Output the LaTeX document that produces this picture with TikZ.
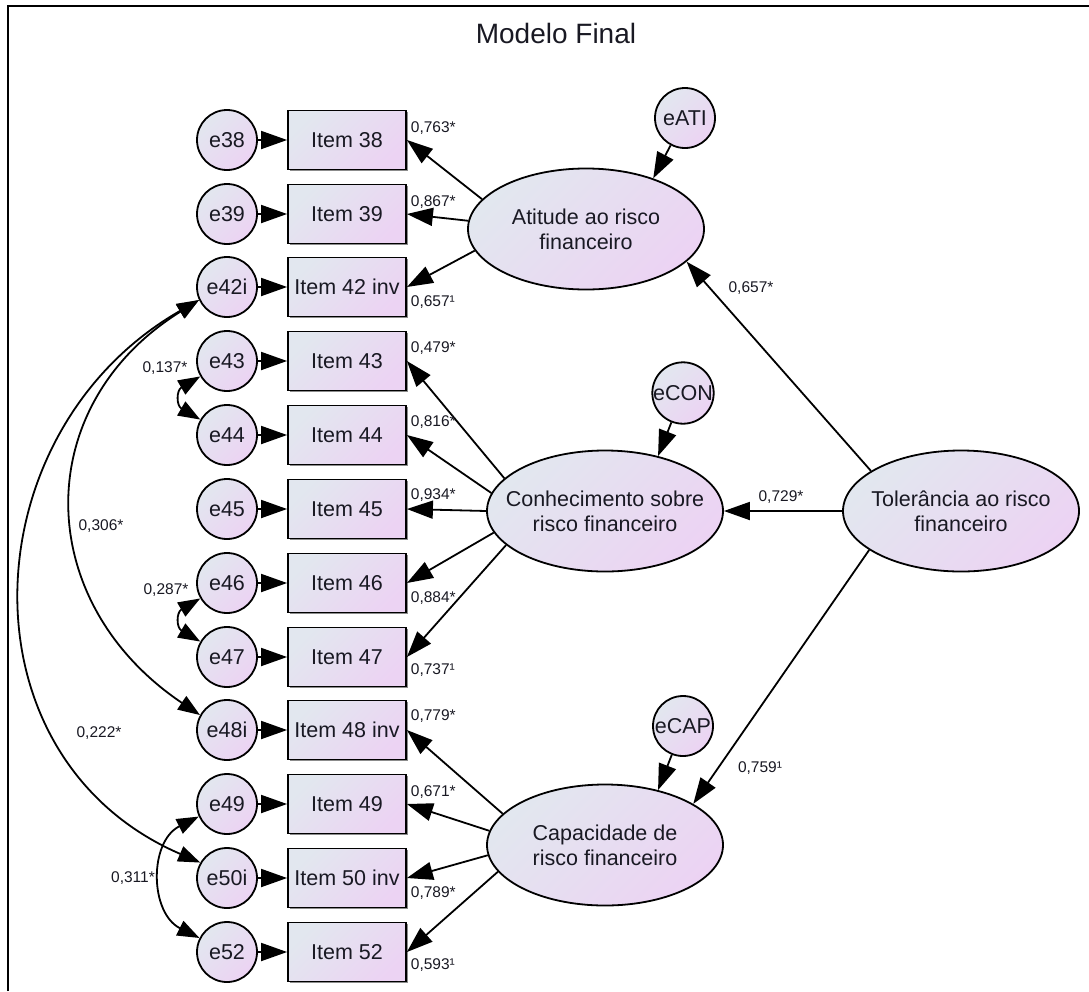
\documentclass[tikz,border=0pt]{standalone}
\usepackage{fontspec}
\setmainfont{Liberation Sans}
\usetikzlibrary{arrows.meta,shapes.geometric,shadows}
\definecolor{fillA}{RGB}{226,231,239}
\definecolor{fillB}{RGB}{236,211,243}
\definecolor{ink}{RGB}{25,25,35}
\begin{document}
\begin{tikzpicture}[x=1pt,y=-1pt,line width=1.8pt,color=ink,
  shadefill/.style={top color=fillA,bottom color=fillB,shading angle=45},
  errvar/.style={circle,draw=black,shadefill,minimum size=60pt,inner sep=0pt,
    font=\fontsize{21.5}{25}\selectfont},
  obsvar/.style={rectangle,draw=black,shadefill,minimum width=118pt,minimum height=59pt,
    inner sep=0pt,font=\fontsize{21.5}{25}\selectfont,
    drop shadow={shadow xshift=1.6pt,shadow yshift=-1.6pt,fill=black!45,opacity=1}},
  latvar/.style={ellipse,draw=black,shadefill,minimum width=236pt,minimum height=121pt,
    inner xsep=-18pt,inner ysep=0pt,align=center,font=\fontsize{21.5}{25}\selectfont},
  regr/.style={draw=black,-{Triangle[length=26pt,width=18pt]}},
  cov/.style={draw=black,{Triangle[length=22pt,width=16pt]}-{Triangle[length=22pt,width=16pt]}},
  coef/.style={font=\fontsize{15.5}{18}\selectfont,inner sep=0pt}
]
\useasboundingbox (0,0) rectangle (1089,991);

% outer frame
\draw[draw=black,line width=2pt] (8,991) -- (8,6) -- (1089,6);
\node[font=\fontsize{28}{32}\selectfont] (title) at (556,33) {Modelo Final};

% error terms and observed items
\foreach \nm/\lab/\item/\yy in {38/e38/Item 38/140, 39/e39/Item 39/214, 42/e42i/Item 42 inv/287,
    43/e43/Item 43/361, 44/e44/Item 44/435, 45/e45/Item 45/509,
    46/e46/Item 46/583, 47/e47/Item 47/657, 48/e48i/Item 48 inv/730,
    49/e49/Item 49/804, 50/e50i/Item 50 inv/878, 52/e52/Item 52/952}{
  \node[errvar] (e\nm) at (227,\yy) {\lab};
  \node[obsvar] (i\nm) at (347,\yy) {\item};
  \draw[regr] (e\nm) -- (i\nm);
}

% latent variables
\node[latvar] (ati) at (586,229) {Atitude ao risco\\financeiro};
\node[latvar] (con) at (605,511) {Conhecimento sobre\\risco financeiro};
\node[latvar] (cap) at (605,845) {Capacidade de\\risco financeiro};
\node[latvar] (tol) at (961,511) {Tolerância ao risco\\financeiro};

% disturbances
\node[errvar] (eATI) at (685,118) {eATI};
\node[errvar] (eCON) at (683,393) {eCON};
\node[errvar] (eCAP) at (683,726) {eCAP};
\draw[regr] (eATI) -- (ati.37);
\draw[regr] (eCON) -- (con.46);
\draw[regr] (eCAP) -- (cap.46);

% structural paths
\draw[regr] (tol.156) -- (ati.-18);
\draw[regr] (tol.west) -- (con.east);
\draw[regr] (tol.203) -- (cap.25);
\node[coef] (pATI) at (751,288) {0,657*};
\node[coef] (pCON) at (781,497) {0,729*};
\node[coef] (pCAP) at (760,768) {0,759¹};

% loadings
\draw[regr] (ati.164) -- (i38.east);
\draw[regr] (ati.176) -- (i39.east);
\draw[regr] (ati.191) -- (i42.east);
\draw[regr] (con.162) -- (i43.east);
\draw[regr] (con.171) -- (i44.east);
\draw[regr] (con.180) -- (i45.east);
\draw[regr] (con.191) -- (i46.east);
\draw[regr] (con.199) -- (i47.east);
\draw[regr] (cap.163) -- (i48.east);
\draw[regr] (cap.173) -- (i49.east);
\draw[regr] (cap.185) -- (i50.east);
\draw[regr] (cap.194) -- (i52.east);

\foreach \nm/\val/\yy in {38/{0,763*}/128, 39/{0,867*}/202, 42/{0,657¹}/302,
    43/{0,479*}/348, 44/{0,816*}/422, 45/{0,934*}/495, 46/{0,884*}/598, 47/{0,737¹}/670,
    48/{0,779*}/716, 49/{0,671*}/792, 50/{0,789*}/893, 52/{0,593¹}/965}{
  \node[coef,anchor=west] (l\nm) at (410,\yy) {\val};
}

% error covariances
\draw[cov] (e43.210) .. controls +(-24,14) and +(-24,-14) .. (e44.150);
\draw[cov] (e46.210) .. controls +(-24,14) and +(-24,-14) .. (e47.150);
\draw[cov] (e49.204) .. controls +(-50,25) and +(-50,-25) .. (e52.153);
\draw[cov] (e42.205) .. controls (29,406) and (32,602) .. (e48.151);
\draw[cov] (e42.205) .. controls (-30,431) and (-44,757) .. (e50.150);
\node[coef] (c1) at (165,368) {0,137*};
\node[coef] (c2) at (166,590) {0,287*};
\node[coef] (c3) at (133,878) {0,311*};
\node[coef] (c4) at (101,526) {0,306*};
\node[coef] (c5) at (99,733) {0,222*};
\end{tikzpicture}
\end{document}
